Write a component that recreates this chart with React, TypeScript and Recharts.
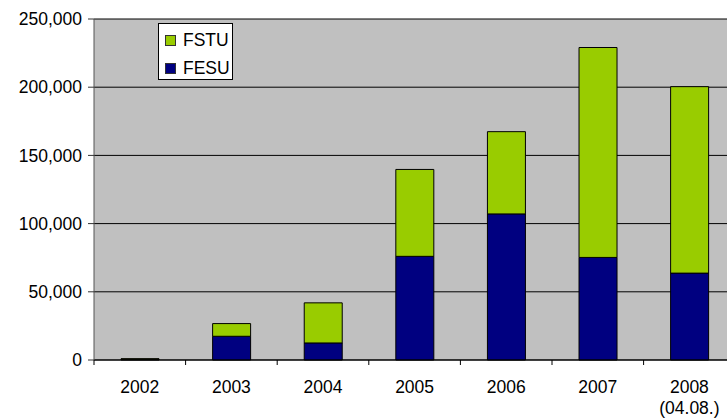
import { BarChart, Bar, XAxis, YAxis, CartesianGrid } from "recharts";

const years = ["2002", "2003", "2004", "2005", "2006", "2007", "2008"];
const yearNotes = ["", "", "", "", "", "", "(04.08.)"];
const fesu = [600, 17400, 12500, 76000, 107100, 75200, 63700];
const fstu = [300, 9300, 29400, 63700, 60300, 153900, 136700];
const yTicks = [0, 50000, 100000, 150000, 200000, 250000];

const data = years.map((year, i) => ({
  year,
  note: yearNotes[i],
  FESU: fesu[i],
  FSTU: fstu[i],
}));

const FONT = "'Liberation Sans', Arial, sans-serif";

function YearTick(props: any) {
  const { x, y, payload, index } = props;
  const half = payload?.offset || 45.8;
  const note = yearNotes[index] ?? "";
  return (
    <g>
      <line x1={x - half} x2={x - half} y1={y} y2={y + 5} stroke="#000" />
      <text x={x} y={y + 33} textAnchor="middle" fontSize={17.5} fontFamily={FONT} fill="#000">
        {payload.value}
      </text>
      {note && (
        <text x={x} y={y + 54} textAnchor="middle" fontSize={17.5} fontFamily={FONT} fill="#000">
          {note}
        </text>
      )}
    </g>
  );
}

// legend sits inside the plot, so draw it over the chart instead of letting Legend reserve space
function LegendBox() {
  const items = [
    { name: "FSTU", color: "#99CC00" },
    { name: "FESU", color: "#000080" },
  ];
  return (
    <div
      style={{
        position: "absolute",
        left: 158,
        top: 23,
        width: 75,
        height: 57,
        background: "#fff",
        border: "1px solid #000",
        boxSizing: "border-box",
        fontFamily: FONT,
        fontSize: 17.5,
        color: "#000",
        paddingTop: 2,
        paddingLeft: 6,
      }}
    >
      {items.map((it) => (
        <div key={it.name} style={{ display: "flex", alignItems: "center", height: 28 }}>
          <span
            style={{
              display: "inline-block",
              width: 9,
              height: 9,
              background: it.color,
              border: "1px solid #333",
              marginRight: 7,
            }}
          />
          <span style={{ lineHeight: "20px" }}>{it.name}</span>
        </div>
      ))}
    </div>
  );
}

export default function App() {
  return (
    <div
      style={{
        position: "absolute",
        left: 0,
        top: 0,
        width: 727,
        height: 420,
        overflow: "hidden",
        background: "#fff",
      }}
    >
      <BarChart
        width={740}
        height={420}
        data={data}
        margin={{ top: 19, right: 4.8, bottom: 0, left: 0 }}
        barCategoryGap="29.5%"
      >
        <CartesianGrid fill="#C0C0C0" stroke="#000" vertical={false} />
        <XAxis
          dataKey="year"
          height={60}
          interval={0}
          tickLine={false}
          tickSize={0}
          tickMargin={0}
          axisLine={{ stroke: "#000" }}
          tick={<YearTick />}
        />
        <YAxis
          width={94}
          domain={[0, 250000]}
          ticks={yTicks}
          interval={0}
          tickSize={6}
          tickMargin={6}
          axisLine={{ stroke: "#555" }}
          tickLine={{ stroke: "#333" }}
          tickFormatter={(v: number) => v.toLocaleString("en-US")}
          tick={{ fontSize: 17.5, fontFamily: FONT, fill: "#000" }}
        />
        <Bar dataKey="FESU" stackId="a" fill="#000080" stroke="#000" strokeWidth={1} isAnimationActive={false} />
        <Bar dataKey="FSTU" stackId="a" fill="#99CC00" stroke="#000" strokeWidth={1} isAnimationActive={false} />
      </BarChart>
      <LegendBox />
    </div>
  );
}
